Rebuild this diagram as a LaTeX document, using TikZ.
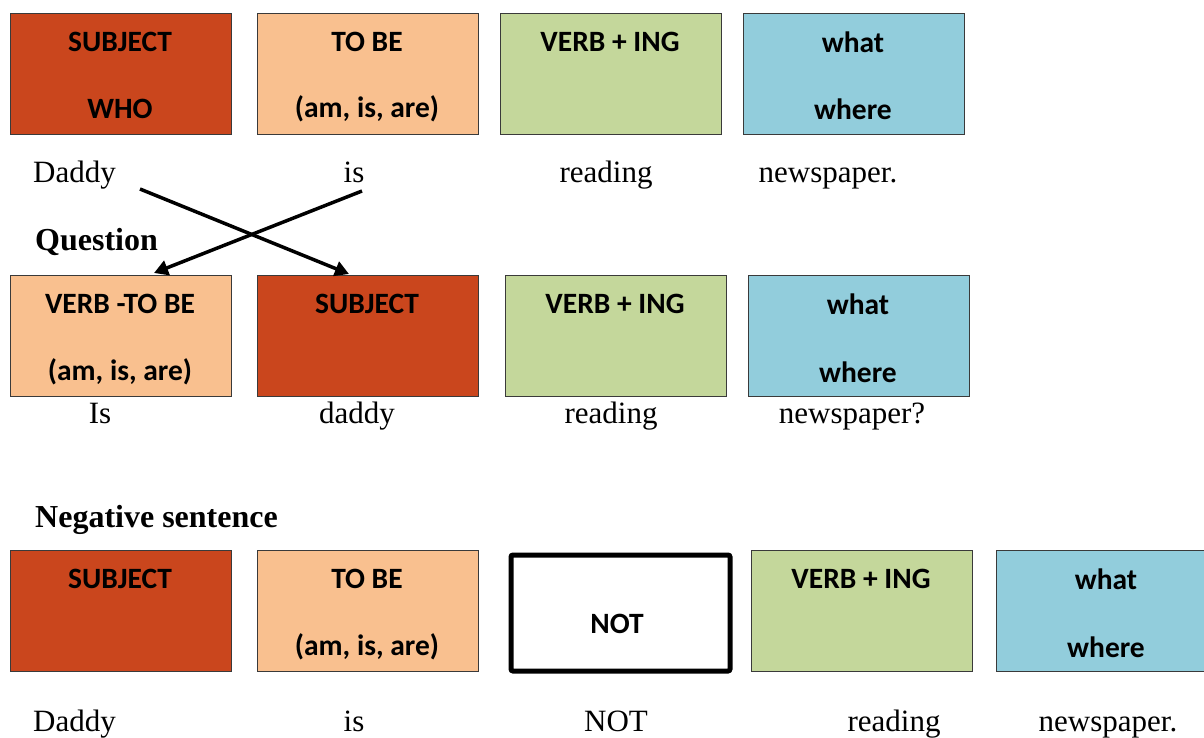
\documentclass[tikz,border=0pt]{standalone}
\usepackage{fontspec}
\setmainfont{Liberation Serif}
\newfontfamily\boxfont{Carlito}
\usetikzlibrary{arrows.meta}
\definecolor{cred}{HTML}{CA461D}
\definecolor{cpeach}{HTML}{F9C08F}
\definecolor{cgreen}{HTML}{C4D79B}
\definecolor{cblue}{HTML}{92CDDC}
\definecolor{cedge}{HTML}{3A3A3A}
\begin{document}
\begin{tikzpicture}[x=1pt,y=-1pt,
  cbox/.style={draw=cedge,line width=1.2pt,rectangle,inner sep=0pt,minimum width=221pt,minimum height=121pt,anchor=north west},
  ntbox/.style={draw=black,line width=5pt,rounded corners=2pt,rectangle,inner sep=0pt,minimum width=219pt,minimum height=116pt,anchor=north west},
  btxt/.style={font=\boxfont\bfseries\fontsize{29.5}{34}\selectfont,inner sep=0pt,anchor=center},
  wtxt/.style={font=\fontsize{31}{36}\selectfont,inner sep=0pt,anchor=base},
  htxt/.style={font=\bfseries\fontsize{32}{37}\selectfont,inner sep=0pt,anchor=base west},
  arr/.style={line width=3.5pt,-{Triangle[length=14pt,width=15pt]}}]
\useasboundingbox (0,0) rectangle (1204,737);
% Row 1
\node[cbox,fill=cred] (r1a) at (10,13) {};
\node[cbox,fill=cpeach] (r1b) at (257,13) {};
\node[cbox,fill=cgreen] (r1c) at (500,13) {};
\node[cbox,fill=cblue] (r1d) at (743,13) {};
\node[btxt] (t1a1) at (120,42) {SUBJECT};
\node[btxt] (t1a2) at (120,109) {WHO};
\node[btxt] (t1b1) at (367,42) {TO BE};
\node[btxt] (t1b2) at (367,109) {(am, is, are)};
\node[btxt] (t1c1) at (610,42) {VERB + ING};
\node[btxt] (t1d1) at (853,42) {what};
\node[btxt] (t1d2) at (853,109) {where};
\node[wtxt] (w1a) at (74.5,182) {Daddy};
\node[wtxt] (w1b) at (354,182) {is};
\node[wtxt] (w1c) at (606,182) {reading};
\node[wtxt] (w1d) at (828,182) {newspaper.};
\node[htxt] (q) at (35,250) {Question};
% Row 2
\node[cbox,fill=cpeach] (r2a) at (10,275) {};
\node[cbox,fill=cred] (r2b) at (257,275) {};
\node[cbox,fill=cgreen] (r2c) at (505,275) {};
\node[cbox,fill=cblue] (r2d) at (748,275) {};
\node[btxt] (t2a1) at (120,304) {VERB -TO BE};
\node[btxt] (t2a2) at (120,372) {(am, is, are)};
\node[btxt] (t2b1) at (367,304) {SUBJECT};
\node[btxt] (t2c1) at (615,304) {VERB + ING};
\node[btxt] (t2d1) at (858,304) {what};
\node[btxt] (t2d2) at (858,372) {where};
\node[wtxt] (w2a) at (100,423) {Is};
\node[wtxt] (w2b) at (357,423) {daddy};
\node[wtxt] (w2c) at (611,423) {reading};
\node[wtxt] (w2d) at (852,423) {newspaper?};
% arrows
\coordinate (s1) at (140,189);
\coordinate (e1) at (349,274);
\coordinate (s2) at (362,191);
\coordinate (e2) at (154,273);
\draw[arr] (s1) -- (e1);
\draw[arr] (s2) -- (e2);
% Negative
\node[htxt] (neg) at (35,527) {Negative sentence};
\node[cbox,fill=cred] (r3a) at (10,550) {};
\node[cbox,fill=cpeach] (r3b) at (257,550) {};
\node[ntbox,fill=white] (r3c) at (508.5,552.5) {};
\node[cbox,fill=cgreen] (r3d) at (751,550) {};
\node[cbox,fill=cblue] (r3e) at (996,550) {};
\node[btxt] (t3a1) at (120,579) {SUBJECT};
\node[btxt] (t3b1) at (367,579) {TO BE};
\node[btxt] (t3b2) at (367,647) {(am, is, are)};
\node[btxt] (t3c1) at (617,624) {NOT};
\node[btxt] (t3d1) at (861,579) {VERB + ING};
\node[btxt] (t3e1) at (1106,579) {what};
\node[btxt] (t3e2) at (1106,647) {where};
\node[wtxt] (w3a) at (74.5,731) {Daddy};
\node[wtxt] (w3b) at (354,731) {is};
\node[wtxt] (w3c) at (616,731) {NOT};
\node[wtxt] (w3d) at (894,731) {reading};
\node[wtxt] (w3e) at (1108,731) {newspaper.};
\end{tikzpicture}
\end{document}
